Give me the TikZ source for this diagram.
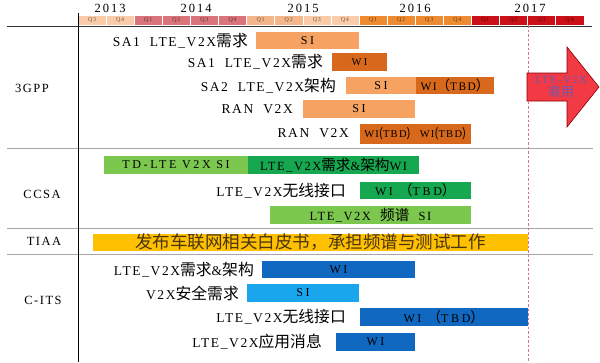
\documentclass[tikz,border=0pt]{standalone}
\usepackage{fontspec}
\setmainfont{Liberation Serif}[LetterSpace=12]
\newfontfamily\cjk{Noto Sans CJK SC}[Scale=1.17]
\newfontfamily\barfont{Liberation Serif}[LetterSpace=22]
\newfontfamily\yearfont{Liberation Serif}[LetterSpace=16]
\newcommand\zh[1]{{\cjk #1}}
\definecolor{qpeach}{HTML}{F9CBA8}
\definecolor{qpeachb}{HTML}{F5B68C}
\definecolor{qrose}{HTML}{D8747A}
\definecolor{qorange}{HTML}{EE8A30}
\definecolor{qred}{HTML}{CC1018}
\definecolor{lorange}{HTML}{F5A262}
\definecolor{dorange}{HTML}{D8681C}
\definecolor{lgreen}{HTML}{7CC84E}
\definecolor{dgreen}{HTML}{16A850}
\definecolor{tiaa}{HTML}{FFC000}
\definecolor{tiaatext}{HTML}{4A3410}
\definecolor{dblue}{HTML}{1068C0}
\definecolor{lblue}{HTML}{1AA6EC}
\definecolor{arrowred}{HTML}{F23A44}
\definecolor{arrowtext}{HTML}{6A5AB0}
\definecolor{dashred}{HTML}{E07080}
\newcommand\gbar[6]{\node[barbase,#2,minimum width={(#4-#3)*1pt}] (#1) at ({(#3+#4)/2},#5) {#6};}
\begin{document}
\begin{tikzpicture}[x=1pt,y=-1pt,
  lbl/.style={anchor=east,inner sep=0pt,font=\fontsize{13.5}{15}\selectfont},
  grp/.style={inner sep=0pt,font=\fontsize{12.5}{14}\selectfont},
  barbase/.style={inner sep=0pt,outer sep=0pt,minimum height=17.5pt,font=\barfont\fontsize{12}{14}\selectfont},
  qcell/.style={inner sep=0pt,minimum height=10pt,draw=white,line width=0.6pt,font=\fontsize{6}{7}\selectfont},
  year/.style={inner sep=0pt,font=\yearfont\fontsize{12.5}{14}\selectfont},
  sepline/.style={draw=black!35,line width=0.8pt}]
\useasboundingbox (0,0) rectangle (600,362);
% header
\foreach \i/\q/\c in {0/Q3/qpeach,1/Q4/qpeach,2/Q1/qrose,3/Q2/qrose,4/Q3/qrose,5/Q4/qrose,
  6/Q1/qpeachb,7/Q2/qpeachb,8/Q3/qpeach,9/Q4/qpeach,10/Q1/qorange,11/Q2/qorange,12/Q3/qorange,13/Q4/qorange,
  14/Q1/qred,15/Q2/qred,16/Q3/qred,17/Q4/qred}
  \node[qcell,fill=\c,text=\c!45!black,minimum width=28.1pt] (q\i) at ({78+28.1*\i+14.05},20) {\q};
\node[year] (y13) at (110,8) {2013};
\node[year] (y14) at (196,8) {2014};
\node[year] (y15) at (303,8) {2015};
\node[year] (y16) at (415,8) {2016};
\node[year] (y17) at (530,8) {2017};
% grid
\draw[draw=black!80,line width=0.8pt] (7,26) -- (592,26);
\draw[sepline] (7,148) -- (593,148);
\draw[sepline] (7,228) -- (593,228);
\draw[sepline] (7,254) -- (593,254);
\draw[draw=black,line width=0.9pt] (78,13) -- (78,362);
\draw[dashred,dashed,line width=0.8pt,dash pattern=on 2.5pt off 2pt] (528,25) -- (528,362);
% group labels
\node[grp] (g3gpp) at (32,88) {3GPP};
\node[grp] (gccsa) at (42,194) {CCSA};
\node[grp] (gtiaa) at (44,241) {TIAA};
\node[grp] (gcits) at (43,300) {C-ITS};
% 3GPP
\gbar{b1}{fill=lorange}{256}{359}{40.5}{SI}
\node[lbl] (l1) at (248,40.5) {SA1~~LTE\_V2X\zh{需求}};
\gbar{b2}{fill=dorange,font=\barfont\fontsize{10.5}{12}\selectfont}{332}{387}{62}{WI}
\node[lbl] (l2) at (323,62) {SA1~~LTE\_V2X\zh{需求}};
\gbar{b3a}{fill=lorange}{346}{416}{85.5}{SI}
\gbar{b3b}{fill=dorange,font=\fontsize{11.5}{13}\selectfont}{416}{494}{85.5}{WI\zh{（}TBD\zh{）}}
\node[lbl] (l3) at (336,85.5) {SA2~~LTE\_V2X\zh{架构}};
\gbar{b4}{fill=lorange}{303}{415}{109}{SI}
\node[lbl] (l4) at (293,109) {RAN~~V2X};
\gbar{b5a}{fill=dorange,minimum height=20pt,font=\fontsize{10.5}{12}\selectfont}{360}{415}{133.5}{WI\zh{(}TBD\zh{)}}
\gbar{b5b}{fill=dorange,minimum height=20pt,font=\fontsize{10.5}{12}\selectfont}{415}{471}{133.5}{WI\zh{(}TBD\zh{)}}
\node[lbl] (l5) at (349,133.5) {RAN~~V2X};
% arrow
\fill[arrowred,draw=red!55!black,line width=0.6pt] (527,73) -- (567,73) -- (567,47) -- (599,87) -- (567,127) -- (567,101) -- (527,101) -- cycle;
\node[inner sep=0pt,align=center,text=arrowtext,font=\fontsize{11}{13}\selectfont] (atext) at (561,86.5) {LTE-V2X\\\zh{商用}};
% CCSA
\gbar{c1a}{fill=lgreen}{104}{248}{165}{TD-LTE~V2X~SI}
\gbar{c1b}{fill=dgreen,font=\fontsize{12.5}{14}\selectfont}{248}{419}{165}{LTE\_V2X\zh{需求}\&\zh{架构}WI}
\gbar{c2}{fill=dgreen}{360}{471}{190.5}{WI~\zh{（}TBD\zh{）}}
\node[lbl] (lc2) at (346,190.5) {LTE\_V2X\zh{无线接口}};
\gbar{c3}{fill=lgreen,font=\fontsize{12.5}{14}\selectfont}{270}{471}{215}{LTE\_V2X~~\zh{频谱}~~SI}
% TIAA
\gbar{t1}{fill=tiaa,text=tiaatext}{93}{528}{242.5}{\fontsize{15}{17}\selectfont\zh{发布车联网相关白皮书，承担频谱与测试工作}}
% C-ITS
\gbar{d1}{fill=dblue}{262}{415}{269.5}{WI}
\node[lbl] (ld1) at (254,269.5) {LTE\_V2X\zh{需求}\&\zh{架构}};
\gbar{d2}{fill=lblue}{247}{359}{293}{SI}
\node[lbl] (ld2) at (239,293) {V2X\zh{安全需求}};
\gbar{d3}{fill=dblue}{360}{528}{317}{WI~\zh{（}TBD\zh{）}}
\node[lbl] (ld3) at (346,317) {LTE\_V2X\zh{无线接口}};
\gbar{d4}{fill=dblue}{336}{415}{342}{WI}
\node[lbl] (ld4) at (322,342) {LTE\_V2X\zh{应用消息}};
\end{tikzpicture}
\end{document}
